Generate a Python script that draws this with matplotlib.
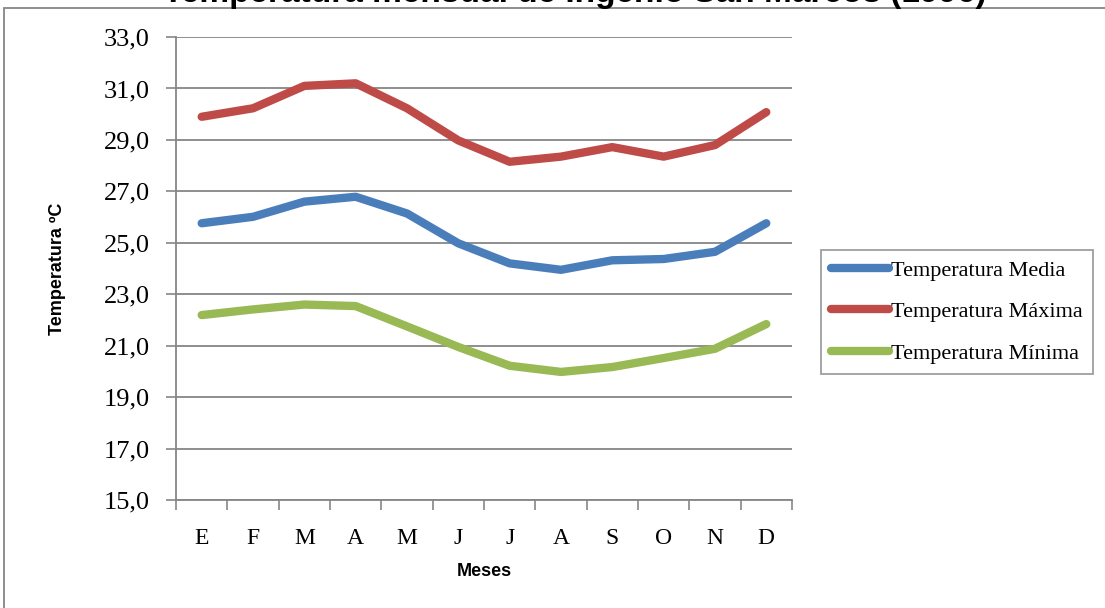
import matplotlib
matplotlib.use("Agg")
import matplotlib.pyplot as plt
from matplotlib.patches import Rectangle
from matplotlib.ticker import FuncFormatter

# data
meses = ["E", "F", "M", "A", "M", "J", "J", "A", "S", "O", "N", "D"]
t_media = [25.76, 26.01, 26.60, 26.79, 26.14, 24.98, 24.20, 23.95, 24.32, 24.37, 24.65, 25.76]
t_maxima = [29.90, 30.23, 31.10, 31.20, 30.23, 28.98, 28.15, 28.35, 28.72, 28.35, 28.80, 30.08]
t_minima = [22.19, 22.41, 22.60, 22.54, 21.75, 20.95, 20.22, 19.98, 20.17, 20.52, 20.88, 21.84]
y_ticks = [15, 17, 19, 21, 23, 25, 27, 29, 31, 33]

BLUE = "#4A7EBB"
RED = "#BE4B48"
GREEN = "#98B954"
GRID = "#868686"

fig = plt.figure(figsize=(11.05, 6.08), dpi=100, facecolor="white")
ax = fig.add_axes([0.1593, 0.1776, 0.5574, 0.7615])

x = list(range(len(meses)))
lw = 6
ax.plot(x, t_media, color=BLUE, lw=lw, solid_capstyle="round", label="Temperatura Media", zorder=3)
ax.plot(x, t_maxima, color=RED, lw=lw, solid_capstyle="round", label="Temperatura Máxima", zorder=3)
ax.plot(x, t_minima, color=GREEN, lw=lw, solid_capstyle="round", label="Temperatura Mínima", zorder=3)

ax.set_xlim(-0.5, len(meses) - 0.5)
ax.set_ylim(15, 33)
ax.set_yticks(y_ticks)
ax.yaxis.set_major_formatter(FuncFormatter(lambda v, p: f"{v:.1f}".replace(".", ",")))
ax.grid(axis="y", color=GRID, lw=1.3)
ax.set_axisbelow(True)

# category axis: ticks between months, labels centred
ax.set_xticks([i - 0.5 for i in range(len(meses) + 1)])
ax.set_xticklabels([])
ax.set_xticks(x, minor=True)
ax.set_xticklabels(meses, minor=True, fontsize=17, family="Liberation Serif")
ax.tick_params(axis="x", which="major", length=7, color=GRID, width=1.2)
ax.tick_params(axis="x", which="minor", length=0, pad=20)
ax.tick_params(axis="y", length=7, color=GRID, width=1.2, labelsize=19, pad=12)
for lab in ax.get_yticklabels():
    lab.set_family("Liberation Serif")

for s in ["top", "right"]:
    ax.spines[s].set_visible(False)
for s in ["left", "bottom"]:
    ax.spines[s].set_color(GRID)
    ax.spines[s].set_linewidth(1.3)

ax.set_ylabel("Temperatura ºC", fontsize=13, fontweight="bold", family="Liberation Sans")
ax.yaxis.set_label_coords(-0.178, 0.5)
ax.set_xlabel("Meses", fontsize=13, fontweight="bold", family="Liberation Sans")
ax.xaxis.set_label_coords(0.5, -0.135)

leg = fig.legend(loc="upper left", bbox_to_anchor=(821 / 1105, 1 - 250 / 608),
                 prop={"family": "Liberation Serif", "size": 16}, frameon=True,
                 fancybox=False, edgecolor=GRID, handlelength=2.6, handletextpad=0.1,
                 labelspacing=0.95, borderpad=0.45, borderaxespad=0)
leg.get_frame().set_linewidth(1.3)

# chart border and clipped title
fig.patches.append(Rectangle((4 / 1105, -0.01), 1.02, 1 - 8 / 608 + 0.01, transform=fig.transFigure,
                             fill=False, edgecolor=GRID, lw=1.3, clip_on=False))
fig.text(575 / 1105, 1 - 2 / 608, "Temperatura mensual de Ingenio San Marcos (1996)",
         ha="center", va="baseline", fontsize=24, fontweight="bold", family="Liberation Sans")

fig.savefig("out.png", dpi=100, facecolor="white")
